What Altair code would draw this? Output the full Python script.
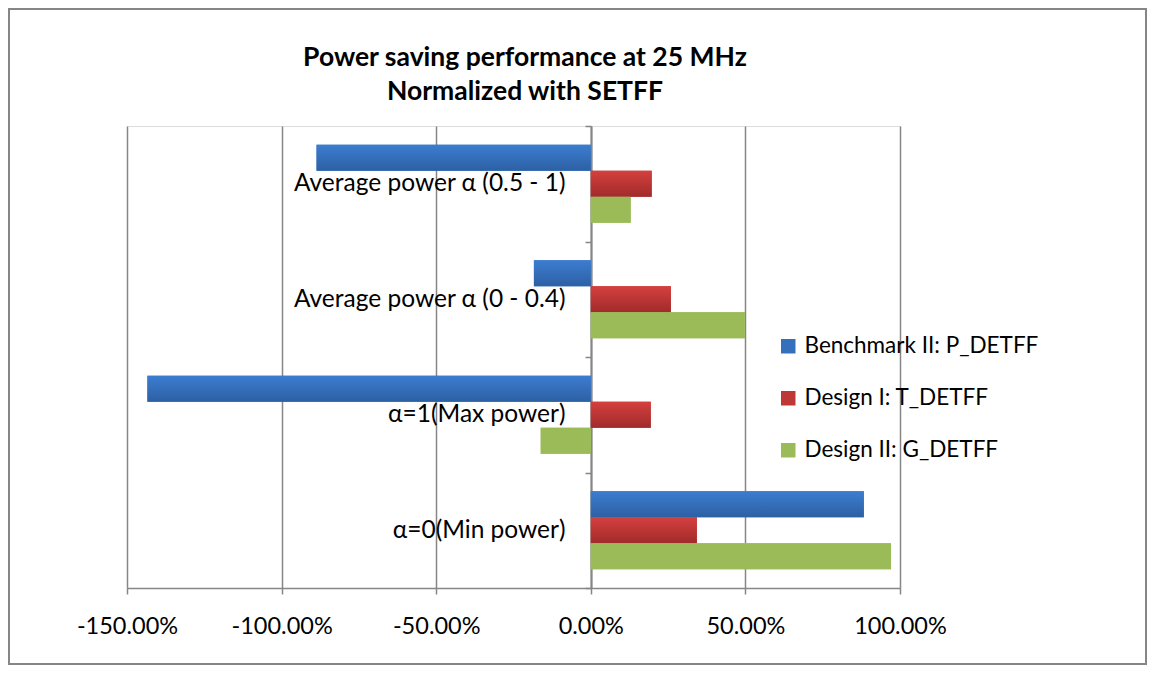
import altair as alt
import pandas as pd

categories = [
    "Average power α (0.5 - 1)",
    "Average power α (0 - 0.4)",
    "α=1(Max power)",
    "α=0(Min power)",
]
series = ["Benchmark II: P_DETFF", "Design I: T_DETFF", "Design II: G_DETFF"]
benchmark_ii = [-88.7, -18.4, -143.4, 88.3]
design_i = [19.7, 25.9, 19.4, 34.3]
design_ii = [12.9, 49.8, -16.2, 97.1]
colors = ["#3570BC", "#BE3836", "#9BBB59"]
grad_top = ["#3C7DD0", "#D4403E", "#9BBB59"]
grad_bottom = ["#2D60A4", "#A12B2B", "#9BBB59"]
x_ticks = [-150, -100, -50, 0, 50, 100]
title_lines = ["Power saving performance at 25 MHz", "Normalized with SETFF"]

rows = []
for s, vals in zip(series, [benchmark_ii, design_i, design_ii]):
    for c, v in zip(categories, vals):
        rows.append({"category": c, "series": s, "value": v})
df = pd.DataFrame(rows)

W, H = 773, 462
PL, PT, PR, PB = 119, 118, 247, 77
FONT = "Lato"
GRAY = "#868686"

x_enc = alt.X(
    "value:Q",
    scale=alt.Scale(domain=[-150, 100], nice=False, zero=False),
    axis=alt.Axis(
        values=x_ticks,
        title=None,
        labelExpr="(datum.value < 0 ? '-' : '') + format(abs(datum.value), '.2f') + '%'",
        labelFont=FONT,
        labelFontSize=23.5,
        labelColor="black",
        labelPadding=20,
        labelFlush=False,
        labelOverlap=False,
        tickSize=6,
        tickColor=GRAY,
        tickWidth=1.5,
        domainColor=GRAY,
        domainWidth=1.5,
        grid=True,
        gridColor=GRAY,
        gridWidth=1.5,
    ),
)
y_enc = alt.Y(
    "category:N",
    sort=categories,
    scale=alt.Scale(paddingInner=0, paddingOuter=0),
    axis=alt.Axis(
        title=None,
        offset=-464,
        labelFont=FONT,
        labelFontSize=24.5,
        labelColor="black",
        labelPadding=20,
        tickSize=6,
        tickColor=GRAY,
        tickWidth=1.5,
        tickBand="extent",
        domainColor=GRAY,
        domainWidth=2,
        grid=False,
        labelLimit=400,
    ),
)
yoff_enc = alt.YOffset(
    "series:N", sort=series, scale=alt.Scale(domain=series, paddingInner=0, paddingOuter=0.72)
)

bars = alt.Chart(df).mark_bar().encode(
    x=x_enc,
    x2=alt.datum(0),
    y=y_enc,
    yOffset=yoff_enc,
    color=alt.Color(
        "series:N",
        sort=series,
        scale=alt.Scale(domain=series, range=colors),
        legend=alt.Legend(
            orient="none",
            legendX=650,
            legendY=209,
            title=None,
            symbolType="square",
            symbolSize=210,
            symbolStrokeWidth=0,
            labelFont=FONT,
            labelFontSize=22.5,
            labelColor="black",
            labelOffset=5,
            rowPadding=29,
            padding=0,
            labelLimit=400,
        ),
    ),
)

overlays = []
for s, top, bottom in zip(series, grad_top, grad_bottom):
    grad = alt.LinearGradient(
        gradient="linear",
        stops=[
            alt.GradientStop(color=top, offset=0),
            alt.GradientStop(color=bottom, offset=1),
        ],
        x1=0, x2=0, y1=0, y2=1,
    )
    overlays.append(
        alt.Chart(df)
        .transform_filter(alt.datum.series == s)
        .mark_bar(color=grad)
        .encode(x=alt.X("value:Q"), x2=alt.datum(0), y=alt.Y("category:N", sort=categories), yOffset=alt.YOffset("series:N", sort=series))
    )

border = alt.Chart(pd.DataFrame({"a": [0]})).mark_rect(
    fill="transparent", stroke=GRAY, strokeWidth=2
).encode(
    x=alt.value(-PL + 1),
    x2=alt.value(W + PR - 1),
    y=alt.value(-PT + 1),
    y2=alt.value(H + PB - 1),
)

title1 = alt.Chart(pd.DataFrame({"a": [0]})).mark_text(
    font=FONT, fontSize=26.5, fontWeight="bold", color="black", align="center", baseline="middle"
).encode(x=alt.value(398), y=alt.value(-68), text=alt.value(title_lines[0]))

title2 = alt.Chart(pd.DataFrame({"a": [0]})).mark_text(
    font=FONT, fontSize=26.5, fontWeight="bold", color="black", align="center", baseline="middle"
).encode(x=alt.value(398), y=alt.value(-34), text=alt.value(title_lines[1]))

chart = (
    alt.layer(bars, *overlays, border, title1, title2)
    .properties(
        width=W,
        height=H,
        padding={"left": PL, "top": PT, "right": PR, "bottom": PB},
        autosize=alt.AutoSizeParams(type="none"),
    )
    .configure_view(stroke=None)
    .configure(background="white")
)

chart.save("out.html", embed_options={"renderer": "svg", "actions": False})
